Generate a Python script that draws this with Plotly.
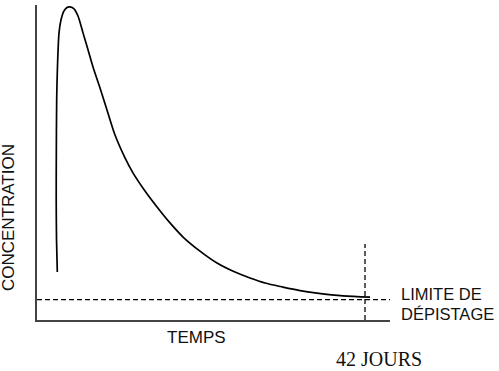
import plotly.graph_objects as go

# Time (days) and concentration (% of peak)
days = [2.60, 2.50, 2.46, 2.47, 2.52, 2.62, 2.82, 3.07, 3.46, 3.84, 4.23, 4.74,
        5.25, 5.89, 6.53, 7.17, 8.07, 8.96, 9.99, 11.27, 12.29, 13.83, 15.37,
        17.03, 18.70, 20.87, 23.05, 25.35, 27.27, 29.20, 31.50, 33.68, 35.85,
        39.18, 42.64]
concentration = [15.3, 25.6, 38.3, 51.1, 70.3, 80.8, 91.7, 95.8, 98.7, 99.8, 100.0,
                 99.4, 97.1, 91.7, 86.3, 80.8, 74.1, 67.1, 59.1, 51.8, 47.0, 41.2,
                 36.1, 31.0, 26.5, 22.0, 18.2, 15.3, 13.4, 11.8, 10.5, 9.4, 8.6,
                 7.7, 7.3]

detection_limit = 6.5
limit_days = 42
limit_marker_top = 24.3
x_max = 45.2
y_max = 100.6

fig = go.Figure()

fig.add_trace(go.Scatter(
    x=days, y=concentration, mode="lines",
    line=dict(color="black", width=1.7, shape="spline", smoothing=0.8),
    hoverinfo="skip", showlegend=False))

fig.add_trace(go.Scatter(
    x=[0, x_max], y=[detection_limit, detection_limit], mode="lines",
    line=dict(color="black", width=1.3, dash="5px,3px"),
    hoverinfo="skip", showlegend=False, cliponaxis=False))

fig.add_trace(go.Scatter(
    x=[limit_days, limit_days], y=[0, limit_marker_top], mode="lines",
    line=dict(color="black", width=1.3, dash="5px,3px"),
    hoverinfo="skip", showlegend=False))

sans = "Liberation Sans, Arial, sans-serif"
serif = "Liberation Serif, Times New Roman, serif"

fig.update_layout(
    width=499, height=371,
    margin=dict(l=37, r=109, t=5, b=51),
    paper_bgcolor="white", plot_bgcolor="white",
    xaxis=dict(range=[0, x_max], showline=True, linecolor="#444", linewidth=2,
               showgrid=False, zeroline=False, showticklabels=False, ticks=""),
    yaxis=dict(range=[0, y_max], showline=True, linecolor="#444", linewidth=2,
               showgrid=False, zeroline=False, showticklabels=False, ticks=""),
    annotations=[
        dict(text="CONCENTRATION", xref="paper", yref="paper", x=-0.079, y=0.324,
             textangle=-90, showarrow=False, xanchor="center", yanchor="middle",
             font=dict(family=sans, size=17, color="#111")),
        dict(text="TEMPS", xref="paper", yref="paper", x=0.452, y=-0.056,
             showarrow=False, xanchor="center", yanchor="middle",
             font=dict(family=sans, size=17, color="#111")),
        dict(text="LIMITE DE", xref="paper", yref="paper", x=1.025, y=0.082,
             showarrow=False, xanchor="left", yanchor="middle", align="left",
             font=dict(family=sans, size=16.5, color="#111")),
        dict(text="DÉPISTAGE", xref="paper", yref="paper", x=1.025, y=0.018,
             showarrow=False, xanchor="left", yanchor="middle", align="left",
             font=dict(family=sans, size=16.5, color="#111")),
        dict(text="42 JOURS", xref="paper", yref="paper", x=0.969, y=-0.125,
             showarrow=False, xanchor="center", yanchor="middle",
             font=dict(family=serif, size=20, color="#111")),
    ],
)

fig.write_html("out.html",
               config={"displayModeBar": False, "staticPlot": True},
               post_script="document.body.style.margin='0';document.body.style.overflow='hidden';")
